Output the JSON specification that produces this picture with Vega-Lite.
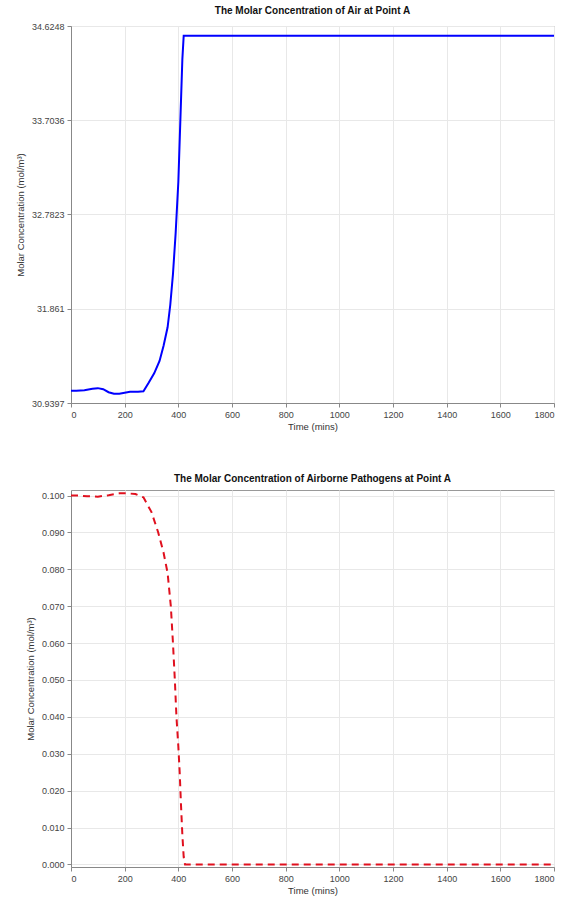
{
  "$schema": "https://vega.github.io/schema/vega-lite/v6.json",
  "background": "white",
  "padding": {"left": 14, "top": 5, "right": 2, "bottom": 5},
  "spacing": 42,
  "datasets": {
    "air": [
      {"t": 0, "c": 31.06}, {"t": 20, "c": 31.06}, {"t": 50, "c": 31.065}, {"t": 80, "c": 31.08},
      {"t": 100, "c": 31.085}, {"t": 120, "c": 31.075}, {"t": 140, "c": 31.045}, {"t": 160, "c": 31.03},
      {"t": 180, "c": 31.03}, {"t": 200, "c": 31.04}, {"t": 220, "c": 31.05}, {"t": 250, "c": 31.05},
      {"t": 270, "c": 31.055}, {"t": 290, "c": 31.14}, {"t": 310, "c": 31.23}, {"t": 330, "c": 31.35},
      {"t": 345, "c": 31.5}, {"t": 360, "c": 31.68}, {"t": 370, "c": 31.9}, {"t": 380, "c": 32.2},
      {"t": 390, "c": 32.6}, {"t": 400, "c": 33.1}, {"t": 405, "c": 33.5}, {"t": 410, "c": 33.9},
      {"t": 415, "c": 34.3}, {"t": 420, "c": 34.53}, {"t": 1800, "c": 34.53}
    ],
    "pathogens": [
      {"t": 0, "c": 0.1}, {"t": 30, "c": 0.1}, {"t": 60, "c": 0.0998}, {"t": 100, "c": 0.0997},
      {"t": 140, "c": 0.1001}, {"t": 180, "c": 0.1006}, {"t": 210, "c": 0.1006}, {"t": 240, "c": 0.1004},
      {"t": 270, "c": 0.0995}, {"t": 300, "c": 0.0955}, {"t": 325, "c": 0.09}, {"t": 345, "c": 0.0845},
      {"t": 360, "c": 0.079}, {"t": 372, "c": 0.07}, {"t": 380, "c": 0.06}, {"t": 387, "c": 0.05},
      {"t": 393, "c": 0.04}, {"t": 400, "c": 0.032}, {"t": 405, "c": 0.025}, {"t": 410, "c": 0.016},
      {"t": 415, "c": 0.008}, {"t": 420, "c": 0.002}, {"t": 425, "c": 0.0}, {"t": 1800, "c": 0.0}
    ]
  },
  "config": {
    "font": "Liberation Sans",
    "view": {"stroke": "#999999", "strokeWidth": 1},
    "title": {"fontSize": 10, "fontWeight": "bold", "color": "#111111", "offset": 6},
    "axis": {
      "labelFontSize": 9,
      "labelColor": "#444444",
      "titleFontSize": 9.5,
      "titleFontWeight": "normal",
      "titleColor": "#333333",
      "domainColor": "#888888",
      "tickColor": "#888888",
      "gridColor": "#e8e8e8",
      "tickSize": 4,
      "labelPadding": 3
    }
  },
  "vconcat": [
    {
      "title": "The Molar Concentration of Air at Point A",
      "width": 483,
      "height": 377,
      "data": {"name": "air"},
      "mark": {"type": "line", "color": "#0000ff", "strokeWidth": 2, "clip": true},
      "encoding": {
        "x": {"field": "t", "type": "quantitative", "title": "Time (mins)",
          "scale": {"domain": [0, 1800], "nice": false},
          "axis": {"values": [0, 200, 400, 600, 800, 1000, 1200, 1400, 1600, 1800], "format": "d", "titlePadding": 2}},
        "y": {"field": "c", "type": "quantitative", "title": "Molar Concentration (mol/m³)",
          "scale": {"domain": [30.9397, 34.6248], "nice": false, "zero": false},
          "axis": {"values": [30.9397, 31.861, 32.7823, 33.7036, 34.6248], "format": ".6~g", "titlePadding": 6}}
      }
    },
    {
      "title": "The Molar Concentration of Airborne Pathogens at Point A",
      "width": 483,
      "height": 377,
      "data": {"name": "pathogens"},
      "mark": {"type": "line", "color": "#e0101e", "strokeWidth": 2, "strokeDash": [7, 5], "clip": true},
      "encoding": {
        "x": {"field": "t", "type": "quantitative", "title": "Time (mins)",
          "scale": {"domain": [0, 1800], "nice": false},
          "axis": {"values": [0, 200, 400, 600, 800, 1000, 1200, 1400, 1600, 1800], "format": "d", "titlePadding": 2}},
        "y": {"field": "c", "type": "quantitative", "title": "Molar Concentration (mol/m³)",
          "scale": {"domain": [-0.0007, 0.1015], "nice": false, "zero": false},
          "axis": {"values": [0, 0.01, 0.02, 0.03, 0.04, 0.05, 0.06, 0.07, 0.08, 0.09, 0.1], "format": ".3f", "titlePadding": 6}}
      }
    }
  ]
}
